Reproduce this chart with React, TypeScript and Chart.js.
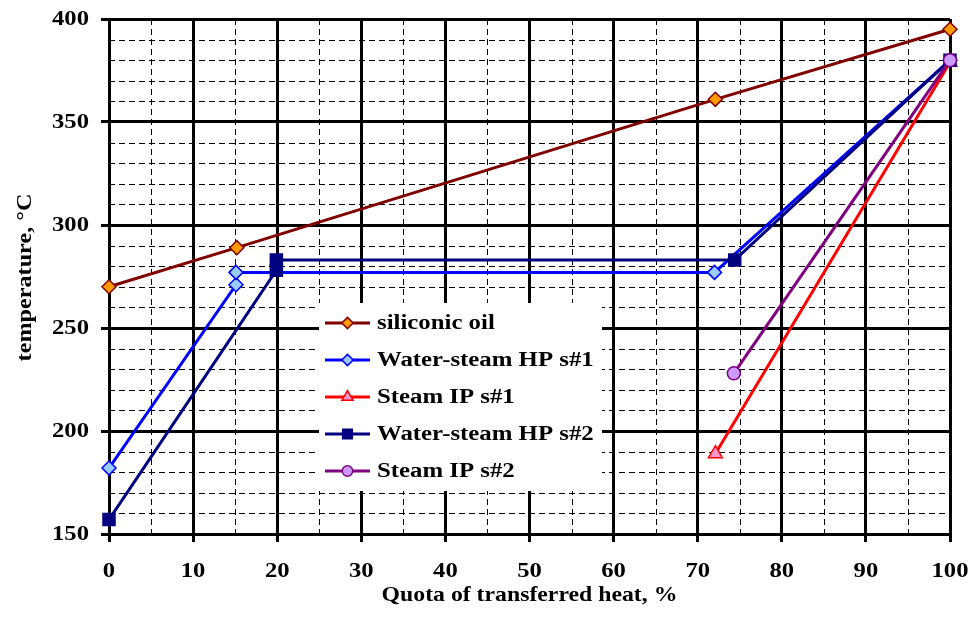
import React, { useEffect, useRef } from 'react';
import { Chart, registerables } from 'chart.js';

Chart.register(...registerables);

// ---- data ----
const seriesNames = ['siliconic oil', 'Water-steam HP s#1', 'Steam IP s#1', 'Water-steam HP s#2', 'Steam IP s#2'];
const oilX = [0, 15.2, 72.1, 100];
const oilY = [270, 289, 361, 395];
const hp1X = [0, 15.1, 15.1, 72, 100];
const hp1Y = [182, 271, 277, 277, 380];
const ip1X = [72.1, 100];
const ip1Y = [189, 379];
const hp2X = [0, 19.9, 19.9, 74.4, 100];
const hp2Y = [157, 278, 283, 283, 380];
const ip2X = [74.3, 100];
const ip2Y = [228, 380];

const xMin = 0, xMax = 100, xStep = 10, xMinorStep = 5;
const yMin = 150, yMax = 400, yStep = 50, yMinorStep = 10;
const xTitle = 'Quota of transferred heat, %';
const yTitle = 'temperature, °C';

const colors = ['#800000', '#0000FF', '#FF0000', '#000080', '#800080'];
const fills = ['#FF9900', '#99CCFF', '#FF99CC', '#000080', '#CC99FF'];
const styles = ['rectRot', 'rectRot', 'triangle', 'rect', 'circle'];
const radii = [7, 7, 8, 8.5, 6.5];

const FONT = '"Liberation Serif", "Times New Roman", serif';

function zip(xs: number[], ys: number[]) {
  return xs.map((x, i) => ({ x, y: ys[i] }));
}

function stretchText(ctx: CanvasRenderingContext2D, text: string, x: number, y: number, align: CanvasTextAlign, sx: number) {
  ctx.save();
  ctx.translate(x, y);
  ctx.scale(sx, 1);
  ctx.textAlign = align;
  ctx.textBaseline = 'middle';
  ctx.fillText(text, 0, 0);
  ctx.restore();
}

function drawMarker(ctx: CanvasRenderingContext2D, style: string, x: number, y: number, r: number, fill: string, stroke: string) {
  ctx.save();
  ctx.fillStyle = fill;
  ctx.strokeStyle = stroke;
  ctx.lineWidth = 1.5;
  ctx.setLineDash([]);
  ctx.beginPath();
  if (style === 'rectRot') {
    ctx.moveTo(x, y - r); ctx.lineTo(x + r, y); ctx.lineTo(x, y + r); ctx.lineTo(x - r, y); ctx.closePath();
  } else if (style === 'rect') {
    const s = r * Math.SQRT1_2;
    ctx.rect(x - s, y - s, 2 * s, 2 * s);
  } else if (style === 'triangle') {
    ctx.moveTo(x, y - r); ctx.lineTo(x + r * 0.866, y + r * 0.5); ctx.lineTo(x - r * 0.866, y + r * 0.5); ctx.closePath();
  } else {
    ctx.arc(x, y, r, 0, Math.PI * 2);
  }
  ctx.fill();
  ctx.stroke();
  ctx.restore();
}

const minorGridPlugin = {
  id: 'minorGrid',
  beforeDatasetsDraw(chart: any) {
    const { ctx, chartArea, scales } = chart;
    const { left, right, top, bottom } = chartArea;
    ctx.save();
    ctx.lineWidth = 1;
    ctx.strokeStyle = '#000';
    ctx.setLineDash([6, 4]);
    for (let v = xMin + xMinorStep; v < xMax; v += xMinorStep) {
      if (v % xStep === 0) continue;
      const px = Math.round(scales.x.getPixelForValue(v)) + 0.5;
      ctx.beginPath(); ctx.moveTo(px, top); ctx.lineTo(px, bottom); ctx.stroke();
    }
    for (let v = yMin + yMinorStep; v < yMax; v += yMinorStep) {
      if (v % yStep === 0) continue;
      const py = Math.round(scales.y.getPixelForValue(v)) + 0.5;
      ctx.beginPath(); ctx.moveTo(left, py); ctx.lineTo(right, py); ctx.stroke();
    }
    ctx.restore();
  },
};

const legendPlugin = {
  id: 'insideLegend',
  afterDatasetsDraw(chart: any) {
    const { ctx } = chart;
    const bx = 319, by = 303, bw = 283, bh = 188;
    ctx.save();
    ctx.fillStyle = '#fff';
    ctx.fillRect(bx, by, bw, bh);
    const rowH = 37;
    seriesNames.forEach((name, i) => {
      const cy = by + 20 + i * rowH;
      ctx.strokeStyle = colors[i];
      ctx.lineWidth = 3;
      ctx.setLineDash([]);
      ctx.beginPath(); ctx.moveTo(bx + 6, cy); ctx.lineTo(bx + 51, cy); ctx.stroke();
      drawMarker(ctx, styles[i], bx + 28.5, cy, radii[i] * 0.8, fills[i], colors[i]);
      ctx.fillStyle = '#000';
      ctx.font = `bold 20px ${FONT}`;
      stretchText(ctx, name, bx + 58, cy + 1, 'left', 1.24);
    });
    ctx.restore();
  },
};

const textPlugin = {
  id: 'axisText',
  afterDraw(chart: any) {
    const { ctx, chartArea, scales } = chart;
    ctx.save();
    ctx.fillStyle = '#000';
    ctx.font = `bold 22px ${FONT}`;
    scales.y.ticks.forEach((t: any) => {
      const py = scales.y.getPixelForValue(t.value);
      stretchText(ctx, String(t.value), chartArea.left - 20, py, 'right', 1.12);
    });
    scales.x.ticks.forEach((t: any) => {
      const px = scales.x.getPixelForValue(t.value);
      stretchText(ctx, String(t.value), px, chartArea.bottom + 37, 'center', 1.12);
    });
    stretchText(ctx, xTitle, (chartArea.left + chartArea.right) / 2, chartArea.bottom + 61, 'center', 1.08);
    ctx.save();
    ctx.translate(25, (chartArea.top + chartArea.bottom) / 2 + 1);
    ctx.rotate(-Math.PI / 2);
    stretchText(ctx, yTitle, 0, 0, 'center', 1.1);
    ctx.restore();
    ctx.restore();
  },
};

export default function App() {
  const ref = useRef<HTMLCanvasElement | null>(null);
  useEffect(() => {
    if (!ref.current) return;
    const seriesX = [oilX, hp1X, ip1X, hp2X, ip2X];
    const seriesY = [oilY, hp1Y, ip1Y, hp2Y, ip2Y];
    const chart = new Chart(ref.current, {
      type: 'line',
      data: {
        datasets: seriesNames.map((name, i) => ({
          label: name,
          data: zip(seriesX[i], seriesY[i]),
          borderColor: colors[i],
          borderWidth: 3,
          backgroundColor: fills[i],
          pointStyle: styles[i] as any,
          pointRadius: radii[i],
          pointBackgroundColor: fills[i],
          pointBorderColor: colors[i],
          pointBorderWidth: 1.5,
          tension: 0,
          fill: false,
          clip: false as any,
          order: seriesNames.length - i,
        })),
      },
      options: {
        animation: false,
        responsive: true,
        maintainAspectRatio: false,
        layout: { padding: { left: 0, top: 19, right: 21, bottom: 0 } },
        plugins: { legend: { display: false }, tooltip: { enabled: false } },
        scales: {
          x: {
            type: 'linear',
            min: xMin,
            max: xMax,
            ticks: { display: false, stepSize: xStep },
            grid: { color: '#000', lineWidth: 3, tickLength: 8, tickWidth: 3, tickColor: '#000', drawTicks: true },
            border: { color: '#000', width: 3 },
            afterFit: (s: any) => { s.height = 84; },
          },
          y: {
            type: 'linear',
            min: yMin,
            max: yMax,
            ticks: { display: false, stepSize: yStep },
            grid: { color: '#000', lineWidth: 3, tickLength: 8, tickWidth: 3, tickColor: '#000', drawTicks: true },
            border: { color: '#000', width: 3 },
            afterFit: (s: any) => { s.width = 109; },
          },
        },
      },
      plugins: [minorGridPlugin, legendPlugin, textPlugin],
    });
    return () => chart.destroy();
  }, []);
  return (
    <div style={{ position: 'absolute', left: 0, top: 0, width: 971, height: 618, background: '#fff' }}>
      <canvas ref={ref} />
    </div>
  );
}
